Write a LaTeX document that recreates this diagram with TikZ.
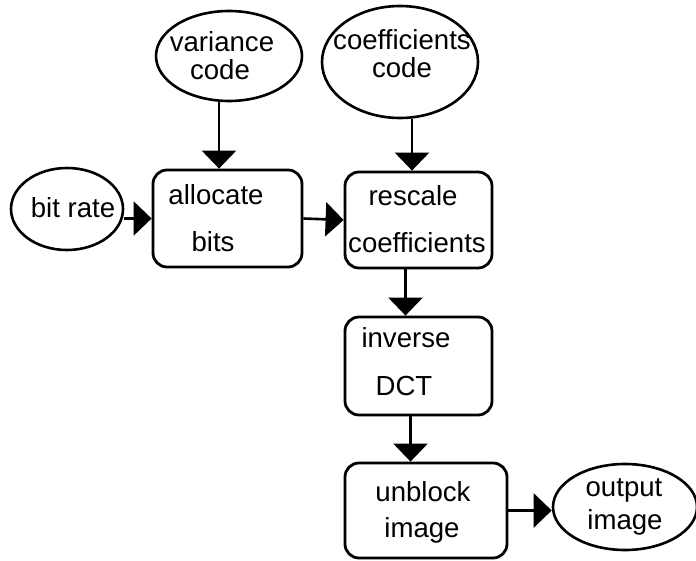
\documentclass[tikz,border=0pt]{standalone}
\usepackage{fontspec}
\setmainfont{Liberation Sans}
\usetikzlibrary{arrows.meta,shapes.geometric}
\begin{document}
\begin{tikzpicture}[x=0.5pt,y=-0.5pt,
  oval/.style={draw,line width=1.3pt,ellipse,inner sep=0pt},
  rbox/.style={draw,line width=1.4pt,rectangle,rounded corners=7pt,inner sep=0pt},
  txt/.style={inner sep=0pt,font=\fontsize{13.8}{15}\selectfont},
  arr/.style={line width=1.3pt,-{Triangle[width=17pt,length=9pt]}}]
\useasboundingbox (0,0) rectangle (696,561);
% shapes
\node[oval,minimum width=73pt,minimum height=45pt] (var) at (229,56) {};
\node[oval,minimum width=78pt,minimum height=56pt] (coef) at (400,62) {};
\node[oval,minimum width=56pt,minimum height=41pt] (rate) at (67,209) {};
\node[rbox,minimum width=74.5pt,minimum height=48.5pt] (alloc) at (227.5,218.5) {};
\node[rbox,minimum width=73.5pt,minimum height=48pt] (resc) at (418.5,220) {};
\node[rbox,minimum width=73.5pt,minimum height=49pt] (idct) at (418.5,366) {};
\node[rbox,minimum width=81pt,minimum height=47.5pt] (unbl) at (426,510.5) {};
\node[oval,minimum width=72pt,minimum height=43pt] (out) at (625,507) {};
% texts
\node[txt] (t1) at (222,42) {variance};
\node[txt] (t2) at (220,70) {code};
\node[txt] (t3) at (402,40) {coefficients};
\node[txt] (t4) at (402,68) {code};
\node[txt] (t5) at (73,208) {bit rate};
\node[txt] (t6) at (216,195) {allocate};
\node[txt] (t7) at (213,242) {bits};
\node[txt] (t8) at (413,196) {rescale};
\node[txt] (t9) at (417,243) {coefficients};
\node[txt] (t10) at (406,338) {inverse};
\node[txt] (t11) at (404,386) {DCT};
\node[txt] (t12) at (423,492) {unblock};
\node[txt] (t13) at (422,530) {image};
\node[txt] (t14) at (624,490) {output};
\node[txt] (t15) at (625,522) {image};
% connectors
\draw[arr] ([xshift=-5pt]var.south) -- ([xshift=-5pt]var.south |- alloc.north);
\draw[arr] ([xshift=6pt]coef.south) -- ([xshift=6pt]coef.south |- resc.north);
\draw[arr] (alloc.west -| rate.east) -- (alloc.west);
\draw[arr] (alloc.east) -- (resc.west);
\draw[arr] ([xshift=-6.5pt]resc.south) -- ([xshift=-6.5pt]resc.south |- idct.north);
\draw[arr] ([xshift=-4pt]idct.south) -- ([xshift=-4pt]idct.south |- unbl.north);
\draw[arr] (unbl.east) -- (unbl.east -| out.west);
\end{tikzpicture}
\end{document}
